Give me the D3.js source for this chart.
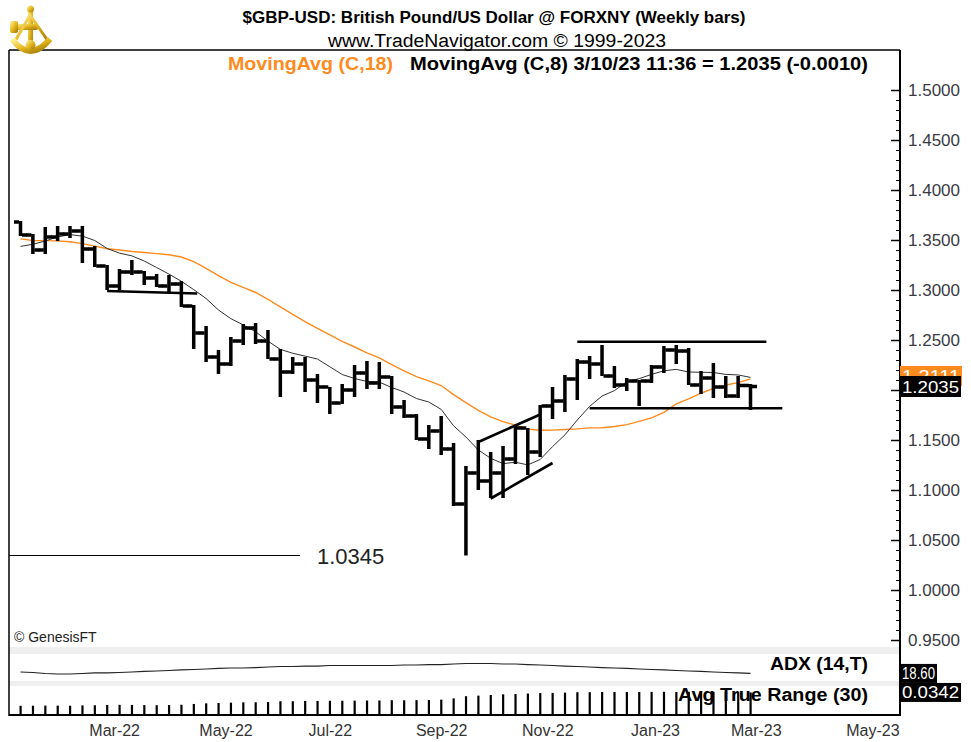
<!DOCTYPE html>
<meta charset="utf-8">
<script src="https://d3js.org/d3.v7.min.js"></script>
<style>
body { margin: 0; background: #fff; }
text { font-family: "Liberation Sans Narrow", "Arial Narrow", "Liberation Sans", Arial, sans-serif; }
.num { font-family: "Liberation Sans", Arial, sans-serif; }
</style>
<div id="chart"></div>
<script>
// weekly bars, week ending date
var weeks = ["2022-01-21","2022-01-28","2022-02-04","2022-02-11","2022-02-18","2022-02-25",
  "2022-03-04","2022-03-11","2022-03-18","2022-03-25","2022-04-01","2022-04-08","2022-04-15",
  "2022-04-22","2022-04-29","2022-05-06","2022-05-13","2022-05-20","2022-05-27","2022-06-03",
  "2022-06-10","2022-06-17","2022-06-24","2022-07-01","2022-07-08","2022-07-15","2022-07-22",
  "2022-07-29","2022-08-05","2022-08-12","2022-08-19","2022-08-26","2022-09-02","2022-09-09",
  "2022-09-16","2022-09-23","2022-09-30","2022-10-07","2022-10-14","2022-10-21","2022-10-28",
  "2022-11-04","2022-11-11","2022-11-18","2022-11-25","2022-12-02","2022-12-09","2022-12-16",
  "2022-12-23","2022-12-30","2023-01-06","2023-01-13","2023-01-20","2023-01-27","2023-02-03",
  "2023-02-10","2023-02-17","2023-02-24","2023-03-03","2023-03-10"];

var opens = [1.3680,1.3550,1.3400,1.3530,1.3560,1.3590,1.3410,1.3240,1.3040,1.3180,
  1.3180,1.3120,1.3040,1.3060,1.2840,1.2570,1.2330,1.2260,1.2490,1.2620,
  1.2490,1.2310,1.2180,1.2260,1.2100,1.2030,1.1870,1.2000,1.2170,1.2070,
  1.2130,1.1830,1.1740,1.1510,1.1590,1.1410,1.0860,1.1170,1.1090,1.1170,
  1.1310,1.1620,1.1380,1.1840,1.1890,1.2110,1.2280,1.2260,1.2140,1.2050,
  1.2090,1.2090,1.2230,1.2400,1.2390,1.2050,1.2120,1.2030,1.1940,1.2045];
var highs = [1.3690,1.3560,1.3630,1.3640,1.3640,1.3640,1.3440,1.3250,1.3210,1.3300,
  1.3190,1.3160,1.3150,1.3090,1.2850,1.2640,1.2400,1.2530,1.2660,1.2670,
  1.2600,1.2410,1.2330,1.2330,1.2160,1.2030,1.2060,1.2250,1.2290,1.2280,
  1.2140,1.1900,1.1760,1.1650,1.1740,1.1470,1.1240,1.1500,1.1380,1.1440,
  1.1650,1.1620,1.1850,1.2030,1.2150,1.2310,1.2340,1.2450,1.2240,1.2120,
  1.2100,1.2250,1.2440,1.2450,1.2420,1.2190,1.2270,1.2140,1.2140,1.2060];
var lows = [1.3540,1.3360,1.3360,1.3490,1.3520,1.3270,1.3230,1.3000,1.3000,1.3150,
  1.3050,1.3030,1.2970,1.2830,1.2410,1.2280,1.2160,1.2240,1.2450,1.2460,
  1.2310,1.1930,1.2160,1.1980,1.1870,1.1760,1.1860,1.1930,1.2010,1.2010,
  1.1760,1.1720,1.1500,1.1410,1.1350,1.0840,1.0345,1.1000,1.0920,1.0920,
  1.1260,1.1150,1.1330,1.1710,1.1780,1.1900,1.2110,1.2140,1.2020,1.1990,
  1.1840,1.2070,1.2170,1.2260,1.2050,1.1960,1.1920,1.1920,1.1920,1.1800];
var closes = [1.3550,1.3400,1.3530,1.3560,1.3590,1.3410,1.3240,1.3040,1.3180,1.3180,
  1.3120,1.3040,1.3060,1.2840,1.2570,1.2330,1.2260,1.2490,1.2620,1.2490,
  1.2310,1.2180,1.2260,1.2100,1.2030,1.1870,1.2000,1.2170,1.2070,1.2130,
  1.1830,1.1740,1.1510,1.1590,1.1410,1.0860,1.1170,1.1090,1.1170,1.1310,
  1.1620,1.1380,1.1840,1.1890,1.2110,1.2280,1.2260,1.2140,1.2050,1.2090,
  1.2090,1.2230,1.2400,1.2390,1.2050,1.2120,1.2030,1.1940,1.2045,1.2035];
// closes of the 17 weeks before the first bar, for the averages
var priorCloses = [1.3675,1.3555,1.3615,1.3745,1.3755,1.3685,1.3500,1.3415,1.3440,
  1.3320,1.3235,1.3265,1.3235,1.3405,1.3530,1.3590,1.3680];

var adx = [20.4,19.8,18.5,17.9,17.9,18.5,19.2,19.2,19.8,20.4,
  21.1,21.7,22.3,23.0,23.6,24.2,24.9,25.5,25.5,26.1,
  26.8,27.4,27.4,28.0,28.0,28.7,28.7,28.7,28.7,28.7,
  28.7,29.3,29.3,29.9,29.9,30.6,31.2,31.2,31.2,30.6,
  30.6,29.9,29.3,28.7,28.0,27.4,26.8,26.1,25.5,24.9,
  24.2,23.6,23.0,22.3,21.7,21.1,20.4,19.8,19.2,18.6];
var atr = [0.0175,0.0176,0.0178,0.0177,0.0176,0.0180,0.0182,0.0186,0.0187,0.0186,
  0.0184,0.0183,0.0184,0.0188,0.0198,0.0206,0.0210,0.0214,0.0218,0.0219,
  0.0222,0.0232,0.0232,0.0235,0.0236,0.0238,0.0238,0.0240,0.0241,0.0242,
  0.0245,0.0244,0.0246,0.0248,0.0252,0.0268,0.0295,0.0302,0.0310,0.0318,
  0.0322,0.0328,0.0334,0.0336,0.0340,0.0345,0.0345,0.0348,0.0348,0.0347,
  0.0348,0.0349,0.0350,0.0348,0.0350,0.0349,0.0350,0.0348,0.0344,0.0342];

var priceTicks = [0.95,1.00,1.05,1.10,1.15,1.20,1.25,1.30,1.35,1.40,1.45,1.50];
var monthLabels = ["2022-03-15","2022-05-17","2022-07-15","2022-09-16","2022-11-15",
  "2023-01-15","2023-03-13","2023-05-18"];

// drawn studies on the chart (date, price)
var supportLine1 = [["2022-03-11",1.2990],["2022-05-01",1.2965]];
var flagUpper = [["2022-10-07",1.1480],["2022-11-11",1.1755]];
var flagLower = [["2022-10-14",1.0915],["2022-11-18",1.1270]];
var rangeTop = [["2022-12-02",1.2483],["2023-03-19",1.2483]];
var rangeBottom = [["2022-12-09",1.1817],["2023-03-28",1.1817]];
var lowMark = 1.0345;

var W = 971, H = 742;
var L = 9, R = 900, T = 50;
var parse = d3.timeParse("%Y-%m-%d");

var svg = d3.select("#chart").append("svg")
  .attr("width", W).attr("height", H);

var x = d3.scaleTime()
  .domain([parse(weeks[0]), parse(weeks[weeks.length - 1])])
  .range([20.5, 750.5]);
var y = d3.scaleLinear().domain([0.95, 1.5]).range([640, 90]);
var yAdx = d3.scaleLinear().domain([9, 42]).range([681, 655]);
var yAtr = d3.scaleLinear().domain([0.006, 0.036]).range([715, 691]);

var bars = weeks.map(function(w, i) {
  return {date: parse(w), o: opens[i], h: highs[i], l: lows[i], c: closes[i], i: i};
});

// simple moving averages of the closes
var allCloses = priorCloses.concat(closes);
function sma(n) {
  return bars.map(function(b, i) {
    var end = i + priorCloses.length;
    return {date: b.date, v: d3.mean(allCloses.slice(end - n + 1, end + 1))};
  });
}
var ma18 = sma(18), ma8 = sma(8);

// gray gaps between panes
svg.append("rect").attr("x", L).attr("y", 647).attr("width", R - L).attr("height", 7).attr("fill", "#efefef");
svg.append("rect").attr("x", L).attr("y", 681).attr("width", R - L).attr("height", 5).attr("fill", "#efefef");

// frame
svg.append("line").attr("x1", L).attr("x2", R).attr("y1", T).attr("y2", T).attr("stroke", "#000").attr("stroke-width", 1.5);
svg.append("line").attr("x1", L).attr("x2", L).attr("y1", T).attr("y2", 716).attr("stroke", "#000").attr("stroke-width", 1.5);
svg.append("line").attr("x1", R).attr("x2", R).attr("y1", T).attr("y2", 716).attr("stroke", "#000").attr("stroke-width", 2);
svg.append("line").attr("x1", L).attr("x2", R).attr("y1", 715).attr("y2", 715).attr("stroke", "#000").attr("stroke-width", 2);

// price axis, ticks inside, labels outside
var minor = d3.range(95, 151).map(function(d) { return d / 100; });
svg.append("g").attr("transform", "translate(" + R + ",0)")
  .call(d3.axisRight(y).tickValues(minor).tickSize(-4).tickFormat(""))
  .call(function(g) { g.select(".domain").remove(); g.selectAll("line").attr("stroke", "#000"); });
svg.append("g").attr("transform", "translate(" + R + ",0)")
  .call(d3.axisRight(y).tickValues(priceTicks).tickSize(-9).tickPadding(8).tickFormat(d3.format(".4f")))
  .call(function(g) {
    g.select(".domain").remove();
    g.selectAll("line").attr("stroke", "#000").attr("stroke-width", 1.5);
    g.selectAll("text").attr("class", "num").attr("font-size", 17).attr("fill", "#3a3a44");
  });

// date axis
svg.append("g").attr("transform", "translate(0,722)")
  .call(d3.axisBottom(x).tickValues(monthLabels.map(parse)).tickSize(0).tickPadding(0)
    .tickFormat(d3.timeFormat("%b-%y")))
  .call(function(g) {
    g.select(".domain").remove();
    g.selectAll("text").attr("font-size", 16).attr("fill", "#333").attr("dy", "0.9em");
  });

// low marker
svg.append("line").attr("x1", L).attr("x2", 300).attr("y1", y(lowMark)).attr("y2", y(lowMark))
  .attr("stroke", "#000").attr("stroke-width", 1);
svg.append("text").attr("class", "num").attr("x", 317).attr("y", y(lowMark) + 8)
  .attr("font-size", 22).attr("fill", "#222").text(lowMark.toFixed(4));

// moving averages
var maLine = d3.line().x(function(d) { return x(d.date); }).y(function(d) { return y(d.v); });
svg.append("path").datum(ma18).attr("d", maLine).attr("fill", "none")
  .attr("stroke", "#ff8a1e").attr("stroke-width", 1.4);
svg.append("path").datum(ma8).attr("d", maLine).attr("fill", "none")
  .attr("stroke", "#333").attr("stroke-width", 1);

// OHLC bars
var g = svg.append("g");
g.selectAll(".hl").data(bars).enter().append("rect")
  .attr("x", function(d) { return x(d.date) - 1.75; })
  .attr("y", function(d) { return y(d.h); })
  .attr("width", 3.5)
  .attr("height", function(d) { return Math.max(2, y(d.l) - y(d.h)); })
  .attr("fill", "#000");
g.selectAll(".op").data(bars).enter().append("rect")
  .attr("x", function(d) { return x(d.date) - 6.5; })
  .attr("y", function(d) { return y(d.o) - 1.75; })
  .attr("width", 5).attr("height", 3.5).attr("fill", "#000");
g.selectAll(".cl").data(bars).enter().append("rect")
  .attr("x", function(d) { return x(d.date) + 1.5; })
  .attr("y", function(d) { return y(d.c) - 1.75; })
  .attr("width", 5).attr("height", 3.5).attr("fill", "#000");

// drawn trend lines
[supportLine1, flagUpper, flagLower, rangeTop, rangeBottom].forEach(function(seg) {
  svg.append("line")
    .attr("x1", x(parse(seg[0][0]))).attr("y1", y(seg[0][1]))
    .attr("x2", x(parse(seg[1][0]))).attr("y2", y(seg[1][1]))
    .attr("stroke", "#000").attr("stroke-width", 2.6);
});

// ADX pane
svg.append("path").datum(adx)
  .attr("d", d3.line().x(function(d, i) { return x(bars[i].date); }).y(function(d) { return yAdx(d); }))
  .attr("fill", "none").attr("stroke", "#222").attr("stroke-width", 1.2);
svg.append("text").attr("x", 868).attr("y", 670).attr("text-anchor", "end")
  .attr("font-size", 18).attr("font-weight", "bold")
  .attr("textLength", 98).attr("lengthAdjust", "spacingAndGlyphs").text("ADX (14,T)");

// ATR pane
svg.selectAll(".atr").data(atr).enter().append("rect")
  .attr("x", function(d, i) { return x(bars[i].date) - 1; })
  .attr("y", function(d) { return yAtr(d); })
  .attr("width", 2.2)
  .attr("height", function(d) { return 715 - yAtr(d); })
  .attr("fill", "#000");
svg.append("text").attr("x", 868).attr("y", 701).attr("text-anchor", "end")
  .attr("font-size", 18).attr("font-weight", "bold")
  .attr("textLength", 190).attr("lengthAdjust", "spacingAndGlyphs").text("Avg True Range (30)");

// value boxes on the right
function valueBox(yc, w, h, fill, label, size) {
  svg.append("rect").attr("x", R).attr("y", yc - h / 2).attr("width", w).attr("height", h).attr("fill", fill);
  svg.append("text").attr("x", R + 2).attr("y", yc + size * 0.36)
    .attr("font-size", size).attr("fill", "#fff")
    .attr("textLength", w - 4).attr("lengthAdjust", "spacingAndGlyphs").text(label);
}
var lastMa = ma18[ma18.length - 1].v;
valueBox(y(lastMa) - 3, 62, 20, "#ff8a1e", lastMa.toFixed(4), 17);
valueBox(y(closes[closes.length - 1]), 61, 21, "#000", closes[closes.length - 1].toFixed(4), 17);
valueBox(yAdx(adx[adx.length - 1]), 37, 19, "#000", adx[adx.length - 1].toFixed(2), 16);
valueBox(yAtr(atr[atr.length - 1]), 61, 19, "#000", atr[atr.length - 1].toFixed(4), 16);

// titles
svg.append("text").attr("x", 494).attr("y", 23).attr("text-anchor", "middle")
  .attr("font-size", 16).attr("font-weight", "bold")
  .attr("textLength", 503).attr("lengthAdjust", "spacingAndGlyphs")
  .text("$GBP-USD:  British Pound/US Dollar @ FORXNY  (Weekly bars)");
svg.append("text").attr("x", 497).attr("y", 47).attr("text-anchor", "middle")
  .attr("font-size", 18).attr("textLength", 338).attr("lengthAdjust", "spacingAndGlyphs")
  .text("www.TradeNavigator.com \u00a9 1999-2023");
svg.append("text").attr("x", 228).attr("y", 70)
  .attr("font-size", 18).attr("font-weight", "bold").attr("fill", "#ff8a1e")
  .attr("textLength", 165).attr("lengthAdjust", "spacingAndGlyphs")
  .text("MovingAvg (C,18)");
svg.append("text").attr("x", 410).attr("y", 70)
  .attr("font-size", 18).attr("font-weight", "bold").attr("fill", "#000")
  .attr("textLength", 458).attr("lengthAdjust", "spacingAndGlyphs")
  .text("MovingAvg (C,8)  3/10/23 11:36 = 1.2035 (-0.0010)");
svg.append("text").attr("x", 14).attr("y", 642).attr("font-size", 14).attr("fill", "#222")
  .text("\u00a9 GenesisFT");

// logo
var defs = svg.append("defs");
var grad = defs.append("linearGradient").attr("id", "gold").attr("x1", 0).attr("y1", 0).attr("x2", 1).attr("y2", 1);
grad.append("stop").attr("offset", "0%").attr("stop-color", "#fff6a8");
grad.append("stop").attr("offset", "50%").attr("stop-color", "#e6b820");
grad.append("stop").attr("offset", "100%").attr("stop-color", "#9a7200");
var logo = svg.append("g").attr("transform", "translate(8,5)");
logo.append("rect").attr("x", 20).attr("y", 2).attr("width", 5).attr("height", 42).attr("fill", "url(#gold)");
logo.append("circle").attr("cx", 22.5).attr("cy", 4).attr("r", 3.5).attr("fill", "url(#gold)");
logo.append("rect").attr("x", 4).attr("y", 19).attr("width", 26).attr("height", 6).attr("rx", 2).attr("fill", "url(#gold)");
logo.append("rect").attr("x", 2).attr("y", 16).attr("width", 8).attr("height", 12).attr("rx", 2).attr("fill", "url(#gold)");
logo.append("path").attr("d", "M22,10 L6,38 M22,10 L40,36").attr("stroke", "url(#gold)").attr("stroke-width", 3).attr("fill", "none");
logo.append("path").attr("d", "M4,34 Q22,58 42,34").attr("stroke", "url(#gold)").attr("stroke-width", 6).attr("fill", "none");
logo.append("circle").attr("cx", 22.5).attr("cy", 40).attr("r", 5).attr("fill", "url(#gold)");
</script>
